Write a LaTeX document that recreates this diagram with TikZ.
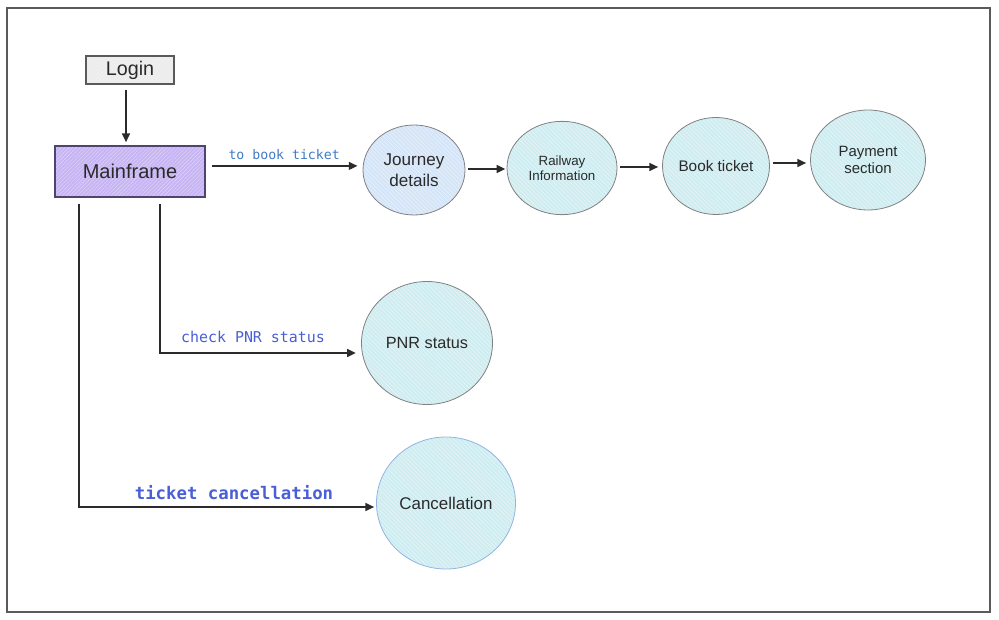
\documentclass[tikz,border=0pt]{standalone}
\usepackage{fontspec}
\setmainfont{Liberation Sans}
\newfontfamily\monofont{DejaVu Sans Mono}
\usetikzlibrary{arrows.meta,shapes.geometric,patterns.meta,calc}
\definecolor{frameC}{HTML}{5A5A5A}
\definecolor{lineC}{HTML}{2B2B2B}
\definecolor{loginFill}{HTML}{ECECEC}
\definecolor{mainFill}{HTML}{C7B5F3}
\definecolor{mainBorder}{HTML}{4F4470}
\definecolor{jourFill}{HTML}{D5E5F8}
\definecolor{cyanFill}{HTML}{CFEDF1}
\definecolor{ellBorder}{HTML}{808080}
\definecolor{cancBorder}{HTML}{93B4E2}
\definecolor{lblA}{HTML}{3D7BC8}
\definecolor{lblB}{HTML}{4A5ED6}
\definecolor{txtC}{HTML}{2A2A2A}
\tikzset{
  boxnode/.style={draw=#1, line width=0.8pt, inner sep=0pt, text=txtC},
  ellnode/.style={ellipse, draw=ellBorder, line width=0.6pt, inner sep=0pt, align=center, text=txtC,
     preaction={fill=#1}, pattern={Lines[angle=-45,distance=2.2pt,line width=0.35pt]}, pattern color=white!55!#1},
  arr/.style={-{Triangle[length=6.5pt,width=6pt]}, line width=1pt, draw=lineC},
  lbl/.style={font=\monofont, inner sep=0pt},
}
\begin{document}
\begin{tikzpicture}[x=0.75pt,y=-0.75pt]
\useasboundingbox (0,0) rectangle (999,620);
\draw[frameC, line width=1.3pt] (7,8) rectangle (990,612);

% boxes
\node[boxnode=frameC, preaction={fill=loginFill}, pattern={Lines[angle=45,distance=2pt,line width=0.3pt]}, pattern color=white!50!loginFill,
      minimum width=66pt, minimum height=21pt, font=\fontsize{14.8}{16}\selectfont] (login) at (130,70) {Login};
\node[boxnode=mainBorder, preaction={fill=mainFill}, pattern={Lines[angle=45,distance=2pt,line width=0.3pt]}, pattern color=white!45!mainFill,
      minimum width=112.5pt, minimum height=38.25pt, font=\fontsize{15}{17}\selectfont] (mainframe) at (130,171.5) {Mainframe};

% ellipses
\node[ellnode=jourFill, minimum width=76.5pt, minimum height=67.5pt, font=\fontsize{12.8}{15.5}\selectfont] (journey) at (414,170) {Journey\\details};
\node[ellnode=cyanFill, minimum width=82.5pt, minimum height=70pt, font=\fontsize{10}{11.5}\selectfont] (railway) at (562,168) {Railway\\Information};
\node[ellnode=cyanFill, minimum width=80.25pt, minimum height=72.75pt, font=\fontsize{11.5}{13}\selectfont] (book) at (716,166) {Book ticket};
\node[ellnode=cyanFill, minimum width=86.25pt, minimum height=75pt, font=\fontsize{11.2}{13}\selectfont] (payment) at (868,160) {\raisebox{-2pt}{\parbox{60pt}{\centering Payment\\section}}};
\node[ellnode=cyanFill, minimum width=98.25pt, minimum height=92.25pt, font=\fontsize{12.2}{14}\selectfont] (pnr) at (427,343) {PNR status};
\node[ellnode=cyanFill, draw=cancBorder, minimum width=104.25pt, minimum height=99pt, font=\fontsize{12.7}{14}\selectfont] (canc) at (446,503) {Cancellation};

% login -> mainframe
\draw[arr, shorten <=4pt, shorten >=2.5pt] ([xshift=-3pt]login.south) -- ([xshift=-3pt]mainframe.north);

% mainframe -> journey
\draw[arr, shorten <=5pt, shorten >=4pt] ([yshift=4.2pt]mainframe.east) -- ([yshift=4.2pt]mainframe.east -| journey.west)
  node[lbl, midway, above=4pt, text=lblA, font=\monofont\fontsize{9.9}{11}\selectfont] (lblbook) {to book ticket};

% chain
\path ($(journey.east)!.5!(railway.west)$) coordinate (m1);
\path ($(railway.east)!.5!(book.west)$) coordinate (m2);
\path ($(book.east)!.5!(payment.west)$) coordinate (m3);
\draw[arr, shorten <=2pt, shorten >=1pt] (journey.east |- m1) -- (railway.west |- m1);
\draw[arr, shorten <=2pt, shorten >=3pt] (railway.east |- m2) -- (book.west |- m2);
\draw[arr, shorten <=2pt, shorten >=3pt] (book.east |- m3) -- (payment.west |- m3);

% mainframe -> PNR
\coordinate (pnrtop) at ([xshift=22.5pt]mainframe.south);
\draw[arr, shorten <=5pt, shorten >=4pt] (pnrtop) |- ([yshift=-7.5pt]pnr.west);
\node[lbl, text=lblB, font=\monofont\fontsize{11.2}{12}\selectfont] (lblpnr) at (253,337) {check PNR status};

% mainframe -> cancellation
\coordinate (canctop) at ([xshift=-38.25pt]mainframe.south);
\draw[arr, shorten <=5pt, shorten >=1.5pt] (canctop) |- ([yshift=-3pt]canc.west);
\node[lbl, text=lblB, font=\monofont\bfseries\fontsize{13}{14}\selectfont] (lblcanc) at (234,493) {ticket cancellation};
\end{tikzpicture}
\end{document}
